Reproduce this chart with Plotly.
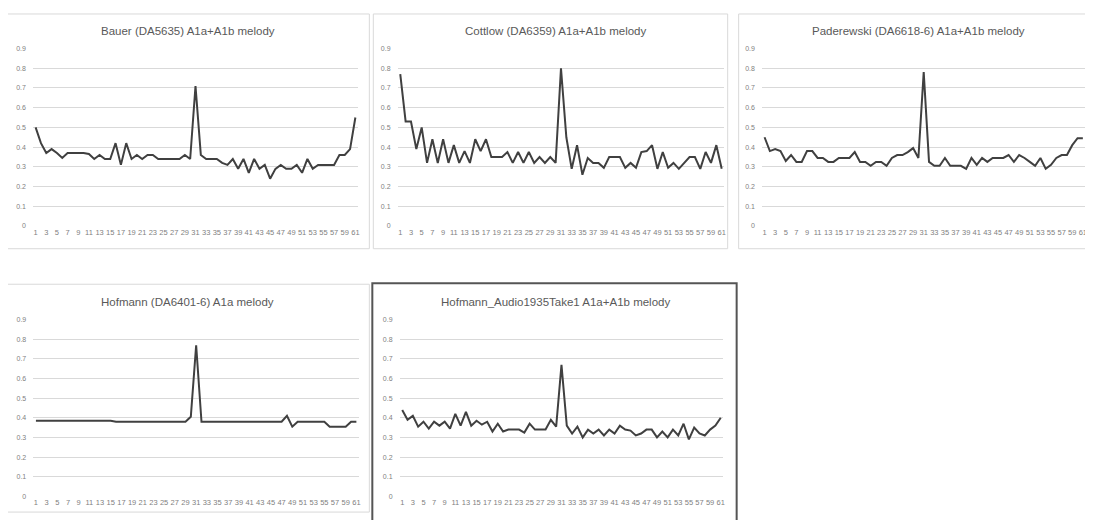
import plotly.graph_objects as go

# The page body adds an 8px margin, so the figure is drawn 8px smaller
# and every pixel position below is shifted by OFF.
OFF = 8
W, H = 1093 - OFF, 520 - OFF

categories = list(range(1, 62))
tick_vals = list(range(1, 62, 2))
tick_text = [str(v) for v in tick_vals]
y_ticks = [0, 0.1, 0.2, 0.3, 0.4, 0.5, 0.6, 0.7, 0.8, 0.9]
y_tick_text = ["0", "0.1", "0.2", "0.3", "0.4", "0.5", "0.6", "0.7", "0.8", "0.9"]

titles = [
    "Bauer (DA5635) A1a+A1b melody",
    "Cottlow (DA6359) A1a+A1b melody",
    "Paderewski (DA6618-6) A1a+A1b melody",
    "Hofmann (DA6401-6) A1a melody",
    "Hofmann_Audio1935Take1 A1a+A1b melody",
]

bauer = [0.50, 0.42, 0.37, 0.39, 0.37, 0.345, 0.37, 0.37, 0.37, 0.37,
         0.365, 0.34, 0.36, 0.34, 0.34, 0.42, 0.31, 0.42, 0.34, 0.36,
         0.34, 0.36, 0.36, 0.34, 0.34, 0.34, 0.34, 0.34, 0.36, 0.34,
         0.71, 0.36, 0.34, 0.34, 0.34, 0.32, 0.31, 0.34, 0.29, 0.34,
         0.27, 0.34, 0.29, 0.31, 0.24, 0.29, 0.31, 0.29, 0.29, 0.31,
         0.27, 0.34, 0.29, 0.31, 0.31, 0.31, 0.31, 0.36, 0.36, 0.39,
         0.55]

cottlow = [0.77, 0.53, 0.53, 0.39, 0.50, 0.32, 0.44, 0.32, 0.44, 0.32,
           0.41, 0.32, 0.38, 0.32, 0.44, 0.38, 0.44, 0.35, 0.35, 0.35,
           0.375, 0.32, 0.375, 0.32, 0.375, 0.32, 0.35, 0.32, 0.35, 0.32,
           0.80, 0.45, 0.29, 0.41, 0.26, 0.345, 0.32, 0.32, 0.295, 0.35,
           0.35, 0.35, 0.295, 0.32, 0.295, 0.375, 0.38, 0.41, 0.29, 0.375,
           0.295, 0.32, 0.29, 0.32, 0.35, 0.35, 0.29, 0.375, 0.32, 0.41,
           0.29]

paderewski = [0.45, 0.38, 0.39, 0.38, 0.33, 0.36, 0.325, 0.325, 0.38, 0.38,
              0.345, 0.345, 0.325, 0.325, 0.345, 0.345, 0.345, 0.375, 0.325, 0.325,
              0.305, 0.325, 0.325, 0.305, 0.345, 0.36, 0.36, 0.375, 0.395, 0.345,
              0.78, 0.325, 0.305, 0.305, 0.345, 0.305, 0.305, 0.305, 0.29, 0.345,
              0.31, 0.345, 0.325, 0.345, 0.345, 0.345, 0.36, 0.325, 0.36, 0.345,
              0.325, 0.305, 0.345, 0.29, 0.31, 0.345, 0.36, 0.36, 0.41, 0.445,
              0.445]

hofmann = [0.385, 0.385, 0.385, 0.385, 0.385, 0.385, 0.385, 0.385, 0.385, 0.385,
           0.385, 0.385, 0.385, 0.385, 0.385, 0.38, 0.38, 0.38, 0.38, 0.38,
           0.38, 0.38, 0.38, 0.38, 0.38, 0.38, 0.38, 0.38, 0.38, 0.405,
           0.77, 0.38, 0.38, 0.38, 0.38, 0.38, 0.38, 0.38, 0.38, 0.38,
           0.38, 0.38, 0.38, 0.38, 0.38, 0.38, 0.38, 0.41, 0.355, 0.38,
           0.38, 0.38, 0.38, 0.38, 0.38, 0.355, 0.355, 0.355, 0.355, 0.38,
           0.38]

hofmann_audio = [0.44, 0.39, 0.41, 0.355, 0.38, 0.345, 0.38, 0.36, 0.38, 0.345,
                 0.42, 0.36, 0.43, 0.36, 0.385, 0.365, 0.38, 0.33, 0.37, 0.33,
                 0.34, 0.34, 0.34, 0.325, 0.37, 0.34, 0.34, 0.34, 0.39, 0.355,
                 0.67, 0.36, 0.32, 0.355, 0.30, 0.34, 0.32, 0.34, 0.31, 0.34,
                 0.32, 0.36, 0.34, 0.335, 0.31, 0.32, 0.34, 0.34, 0.30, 0.33,
                 0.30, 0.34, 0.31, 0.37, 0.29, 0.35, 0.32, 0.31, 0.34, 0.36,
                 0.40]

series = [bauer, cottlow, paderewski, hofmann, hofmann_audio]

# plot areas in page pixels: (x0, x1, ytop, ybottom)
areas = [
    (33.0, 358.7, 45, 225),
    (398.3, 725.7, 45, 225),
    (763.3, 1087.5, 45, 225),
    (33.3, 359.7, 320, 499),
    (400.3, 724.7, 320, 499),
]
title_pos = [(188, 27), (557, 27), (920, 27), (188, 302), (557, 302)]
borders = [
    (7, 10, 370, 248, "#d9d9d9", 1),
    (374, 10, 729, 248, "#d9d9d9", 1),
    (740, 10, 1110, 248, "#d9d9d9", 1),
    (7, 284, 370, 515, "#d9d9d9", 1),
    (373, 283, 738, 540, "#555555", 2),
]


def px(x):
    return (x - OFF) / W


def py(y):
    return 1 - (y - OFF) / H


fig = go.Figure()
layout = dict(
    width=W, height=H,
    margin=dict(l=0, r=0, t=0, b=0),
    paper_bgcolor="white", plot_bgcolor="white",
    showlegend=False,
    font=dict(family="Liberation Sans, Arial, sans-serif", color="#7f7f7f"),
)

shapes = []
annotations = []
for i, (vals, (x0, x1, yt, yb)) in enumerate(zip(series, areas)):
    n = "" if i == 0 else str(i + 1)
    fig.add_trace(go.Scatter(
        x=categories, y=vals, mode="lines",
        line=dict(color="#404040", width=2),
        xaxis="x" + n, yaxis="y" + n,
    ))
    layout["xaxis" + n] = dict(
        domain=[px(x0), min(px(x1), 1.0)], anchor="y" + n,
        range=[0.5, 61.5], tickmode="array",
        tickvals=tick_vals, ticktext=tick_text,
        tickfont=dict(size=7.5, color="#7f7f7f"),
        showgrid=False, zeroline=False, showline=False,
        ticks="", tickangle=0,
    )
    layout["yaxis" + n] = dict(
        domain=[py(yb), py(yt)], anchor="x" + n,
        range=[0, 0.9], tickmode="array",
        tickvals=y_ticks, ticktext=y_tick_text,
        tickfont=dict(size=7, color="#7f7f7f"),
        showgrid=True, gridcolor="#d9d9d9", gridwidth=1,
        zeroline=False, showline=False, ticks="",
        ticklabelstandoff=6,
    )
    tx, ty = title_pos[i]
    annotations.append(dict(
        x=px(tx), y=py(ty), xref="paper", yref="paper",
        text=titles[i], showarrow=False,
        font=dict(size=11.5, color="#595959"),
        xanchor="center", yanchor="middle",
    ))

for (bx0, by0, bx1, by1, col, wd) in borders:
    shapes.append(dict(
        type="rect", xref="paper", yref="paper",
        x0=px(bx0), x1=px(bx1), y0=py(by1), y1=py(by0),
        line=dict(color=col, width=wd), fillcolor="rgba(0,0,0,0)",
        layer="below",
    ))

layout["shapes"] = shapes
layout["annotations"] = annotations
fig.update_layout(**layout)
fig.write_html("out.html")
